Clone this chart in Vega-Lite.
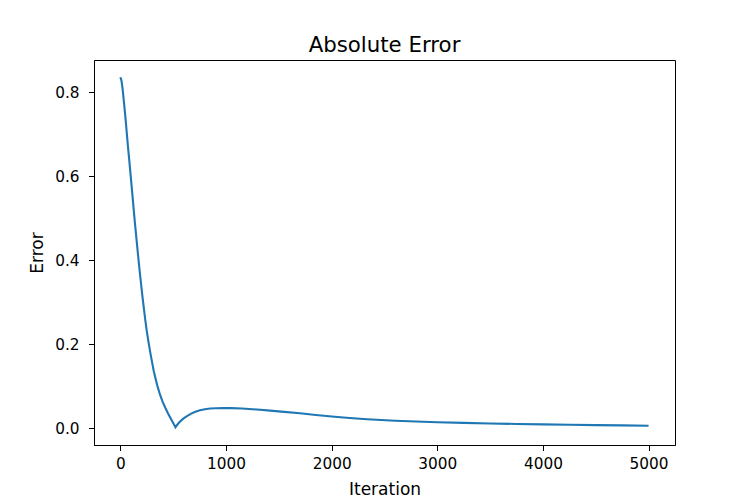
{
  "$schema": "https://vega.github.io/schema/vega-lite/v6.json",
  "autosize": "none",
  "width": 581,
  "height": 385,
  "padding": {"left": 94, "top": 60, "right": 75, "bottom": 55},
  "background": "white",
  "title": {"text": "Absolute Error", "font": "DejaVu Sans", "fontSize": 21.3, "fontWeight": "normal", "color": "black", "anchor": "middle", "offset": 4},
  "config": {
    "view": {"stroke": "black", "strokeWidth": 1},
    "axis": {
      "domainColor": "black", "domainWidth": 1, "tickColor": "black", "tickWidth": 1, "tickSize": 5.5,
      "labelFont": "DejaVu Sans", "labelFontSize": 15.3, "labelColor": "black", "labelPadding": 5,
      "titleFont": "DejaVu Sans", "titleFontSize": 17, "titleFontWeight": "normal", "titleColor": "black",
      "grid": false
    }
  },
  "data": {"values": [
    {"iteration": 0, "error": 0.836},
    {"iteration": 10, "error": 0.828},
    {"iteration": 20, "error": 0.810},
    {"iteration": 35, "error": 0.773},
    {"iteration": 50, "error": 0.733},
    {"iteration": 70, "error": 0.675},
    {"iteration": 85, "error": 0.635},
    {"iteration": 110, "error": 0.566},
    {"iteration": 135, "error": 0.495},
    {"iteration": 164, "error": 0.420},
    {"iteration": 185, "error": 0.368},
    {"iteration": 209, "error": 0.313},
    {"iteration": 235, "error": 0.259},
    {"iteration": 250, "error": 0.231},
    {"iteration": 266, "error": 0.205},
    {"iteration": 283, "error": 0.180},
    {"iteration": 300, "error": 0.157},
    {"iteration": 316, "error": 0.136},
    {"iteration": 333, "error": 0.118},
    {"iteration": 350, "error": 0.101},
    {"iteration": 375, "error": 0.080},
    {"iteration": 400, "error": 0.063},
    {"iteration": 425, "error": 0.049},
    {"iteration": 450, "error": 0.036},
    {"iteration": 475, "error": 0.024},
    {"iteration": 500, "error": 0.0125},
    {"iteration": 521, "error": 0.0025},
    {"iteration": 540, "error": 0.009},
    {"iteration": 560, "error": 0.015},
    {"iteration": 595, "error": 0.023},
    {"iteration": 630, "error": 0.029},
    {"iteration": 670, "error": 0.035},
    {"iteration": 710, "error": 0.0395},
    {"iteration": 753, "error": 0.0432},
    {"iteration": 800, "error": 0.0455},
    {"iteration": 850, "error": 0.047},
    {"iteration": 900, "error": 0.0478},
    {"iteration": 975, "error": 0.048},
    {"iteration": 1050, "error": 0.0479},
    {"iteration": 1150, "error": 0.047},
    {"iteration": 1250, "error": 0.0455},
    {"iteration": 1418, "error": 0.042},
    {"iteration": 1550, "error": 0.039},
    {"iteration": 1700, "error": 0.0357},
    {"iteration": 1850, "error": 0.0318},
    {"iteration": 2000, "error": 0.028},
    {"iteration": 2170, "error": 0.0245},
    {"iteration": 2336, "error": 0.0215},
    {"iteration": 2600, "error": 0.018},
    {"iteration": 2800, "error": 0.016},
    {"iteration": 3000, "error": 0.0143},
    {"iteration": 3250, "error": 0.0128},
    {"iteration": 3500, "error": 0.0115},
    {"iteration": 3750, "error": 0.0103},
    {"iteration": 4000, "error": 0.0093},
    {"iteration": 4250, "error": 0.0084},
    {"iteration": 4500, "error": 0.0076},
    {"iteration": 4750, "error": 0.0069},
    {"iteration": 5000, "error": 0.0062}
  ]},
  "mark": {"type": "line", "color": "#1f77b4", "strokeWidth": 2.1, "clip": true},
  "encoding": {
    "x": {"field": "iteration", "type": "quantitative", "title": "Iteration",
      "scale": {"domain": [-250, 5250], "nice": false, "zero": false},
      "axis": {"values": [0, 1000, 2000, 3000, 4000, 5000], "format": "d", "labelPadding": 6, "titlePadding": 10}},
    "y": {"field": "error", "type": "quantitative", "title": "Error",
      "scale": {"domain": [-0.0398, 0.877], "nice": false, "zero": false},
      "axis": {"values": [0, 0.2, 0.4, 0.6, 0.8], "format": ".1f", "labelPadding": 9.5, "titlePadding": 8}}
  }
}
